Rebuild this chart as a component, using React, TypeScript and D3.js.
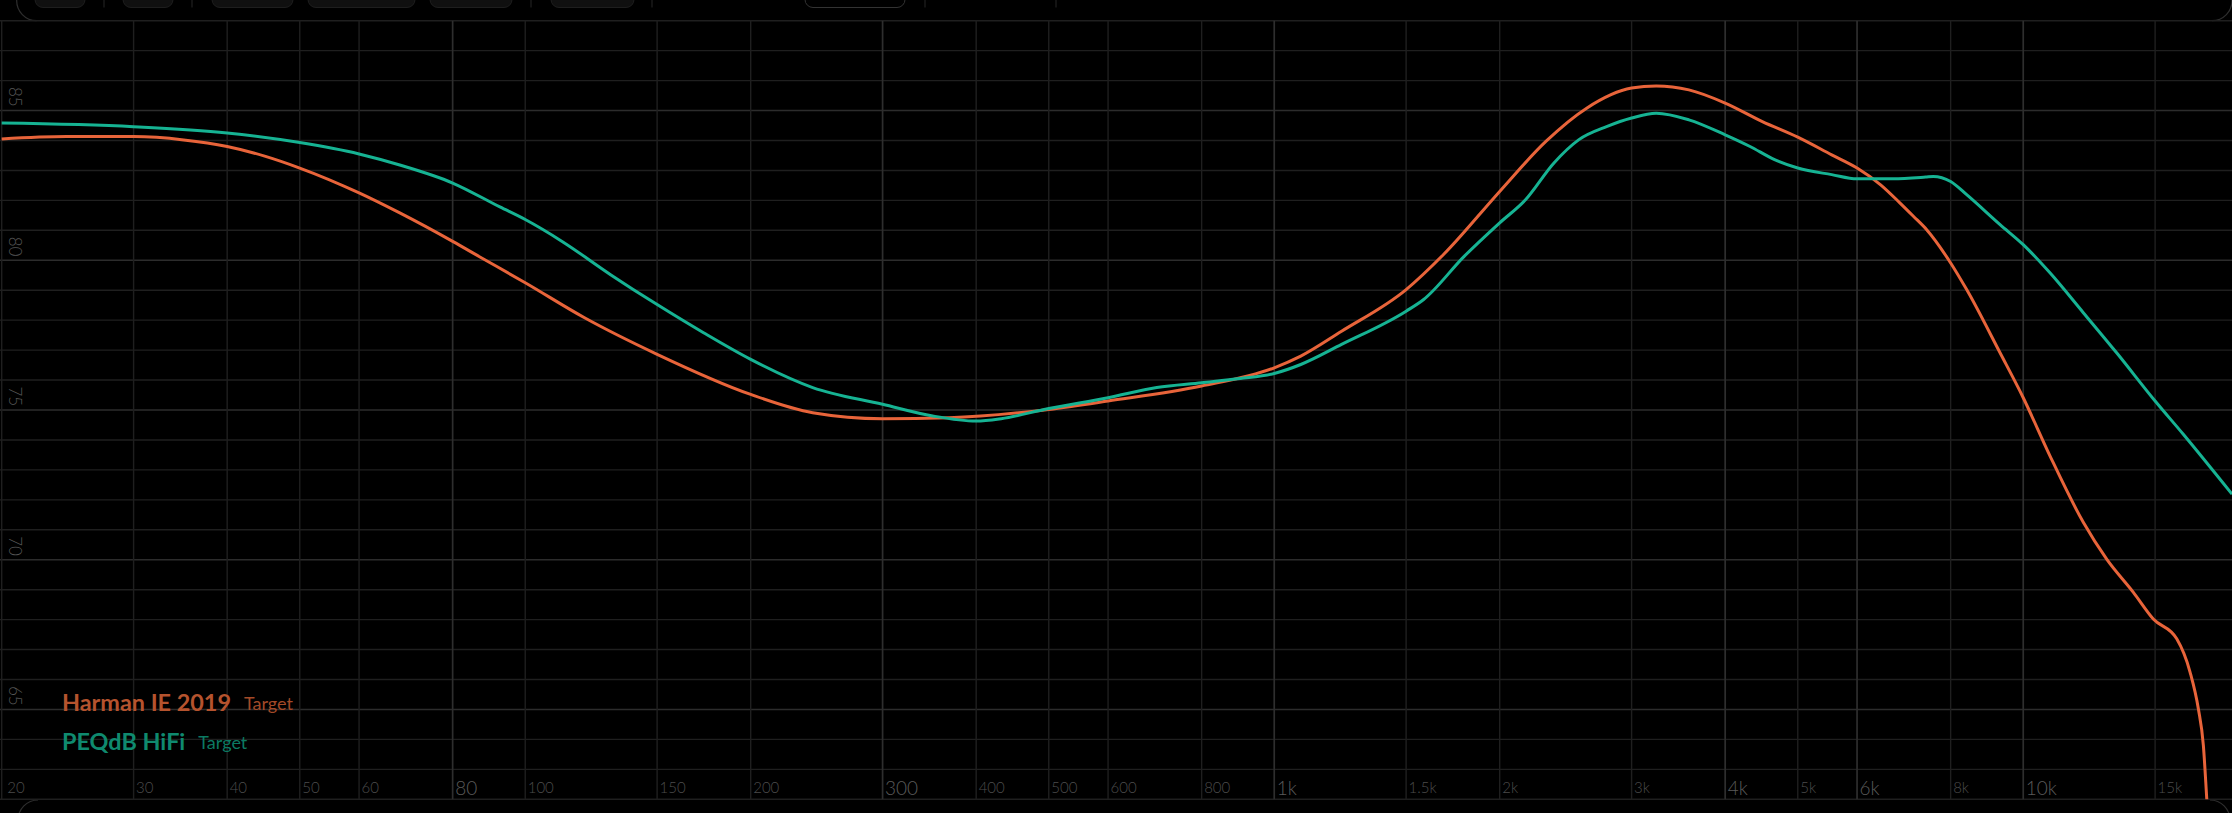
import * as d3 from "d3";
import { useEffect, useRef } from "react";

const W = 2232;
const H = 813;

// x axis grid / labels
const freqTicks = [20, 30, 40, 50, 60, 80, 100, 150, 200, 300, 400, 500, 600, 800, 1000, 1500, 2000, 3000, 4000, 5000, 6000, 8000, 10000, 15000, 20000];
const freqLabels = ["20", "30", "40", "50", "60", "80", "100", "150", "200", "300", "400", "500", "600", "800", "1k", "1.5k", "2k", "3k", "4k", "5k", "6k", "8k", "10k", "15k", "20k"];
const majorFreqs = [80, 300, 1000, 4000, 6000, 10000];

// y axis grid / labels (dB)
const dbLines = [62, 63, 64, 65, 66, 67, 68, 69, 70, 71, 72, 73, 74, 75, 76, 77, 78, 79, 80, 81, 82, 83, 84, 85, 86, 87, 88];
const dbLabels = [65, 70, 75, 80, 85];

// Harman IE 2019 target
const harmanFreq = [20, 24.4, 30, 35, 40, 45, 50, 60, 68, 80, 87, 100, 120, 150, 200, 242, 300, 368, 500, 600, 800, 1000, 1085, 1230, 1500, 1684, 2000, 2305, 2613, 3000, 3236, 3578, 4000, 4484, 5000, 5550, 6000, 6451, 6848, 7134, 7432, 8000, 8404, 9312, 10000, 10856, 12028, 12924, 14030, 14916, 16030, 16700, 17132, 17398, 17578, 17750];
const harmanDb = [84.05, 84.13, 84.13, 84.02, 83.8, 83.47, 83.08, 82.25, 81.58, 80.63, 80.11, 79.25, 78.08, 76.86, 75.52, 74.91, 74.71, 74.74, 75.02, 75.3, 75.8, 76.41, 76.8, 77.63, 79.02, 80.2, 82.3, 83.97, 85.08, 85.75, 85.82, 85.69, 85.25, 84.63, 84.11, 83.52, 83.08, 82.52, 81.91, 81.47, 81.02, 79.91, 79.02, 76.91, 75.41, 73.47, 71.25, 70.02, 68.91, 68.02, 67.36, 66.25, 65.02, 63.8, 62.05, 60.3];

// PEQdB HiFi target
const peqFreq = [20, 30, 40, 50, 60, 68, 80, 92.5, 100, 112, 130, 150, 173, 200, 242, 300, 350, 400, 432, 500, 600, 697, 800, 900, 1000, 1085, 1230, 1500, 1583, 1793, 2000, 2165, 2363, 2549, 2783, 3000, 3236, 3578, 4000, 4318, 4656, 5000, 5550, 6000, 6700, 7409, 7584, 8000, 8404, 9312, 10000, 10856, 12028, 13326, 15000, 16357, 19000];
const peqDb = [84.58, 84.46, 84.25, 83.93, 83.55, 83.18, 82.58, 81.78, 81.36, 80.63, 79.52, 78.52, 77.58, 76.69, 75.75, 75.19, 74.8, 74.63, 74.71, 75.05, 75.41, 75.75, 75.91, 76.05, 76.22, 76.52, 77.19, 78.3, 78.69, 80.13, 81.25, 82.02, 83.25, 84.02, 84.47, 84.75, 84.91, 84.69, 84.19, 83.8, 83.36, 83.08, 82.86, 82.72, 82.72, 82.78, 82.8, 82.63, 82.19, 81.19, 80.52, 79.58, 78.25, 76.91, 75.3, 74.19, 72.19];

const seriesNames = ["Harman IE 2019", "PEQdB HiFi"];
const seriesColors = ["#e8643a", "#16b393"];
const legendColors = ["#b5532e", "#0f8a6f"];
const legendSubColors = ["#a34a28", "#0c7a62"];

// toolbar buttons peeking in at the top (decoration)
const toolButtons = [[35, 85], [123, 173], [212, 293], [308, 415], [430, 512], [551, 634]];
const toolDividers = [104, 192, 531, 652, 925, 1056];

export default function App() {
  const ref = useRef<SVGSVGElement | null>(null);

  useEffect(() => {
    if (!ref.current) return;
    const svg = d3.select(ref.current);
    svg.selectAll("*").remove();

    const top = 20.7;
    const bottom = 799.3;

    const x = d3.scaleLog().domain([20, 20000]).range([1.7, 1.7 + 749 * 3]);
    const y = d3.scaleLinear().domain([62, 88]).range([bottom, top]);

    svg.append("rect").attr("width", W).attr("height", H).attr("fill", "#000");

    // toolbar
    const tb = svg.append("g");
    tb.selectAll("rect")
      .data(toolButtons)
      .join("rect")
      .attr("x", (d) => d[0])
      .attr("y", -20)
      .attr("width", (d) => d[1] - d[0])
      .attr("height", 27.5)
      .attr("rx", 8)
      .attr("fill", "#101010")
      .attr("stroke", "#1e1e1e");
    tb.append("rect")
      .attr("x", 805)
      .attr("y", -20)
      .attr("width", 100)
      .attr("height", 27.5)
      .attr("rx", 8)
      .attr("fill", "#000")
      .attr("stroke", "#333");
    tb.selectAll("line")
      .data(toolDividers)
      .join("line")
      .attr("x1", (d) => d)
      .attr("x2", (d) => d)
      .attr("y1", 0)
      .attr("y2", 7.5)
      .attr("stroke", "#262626");

    // panel corners
    const corners = svg.append("g").attr("fill", "none").attr("stroke", "#2e2e2e").attr("stroke-width", 1.2);
    corners.append("path").attr("d", `M16.7,0 A20,20 0 0 0 36.7,${top}`);
    corners.append("path").attr("d", `M2212,${top} A20,20 0 0 0 2232,0`);
    corners.append("path").attr("d", `M18,820 A20,20 0 0 1 38,800`);
    corners.append("path").attr("d", `M2210,800 A20,20 0 0 1 2230,820`);

    // horizontal grid
    svg.append("g")
      .selectAll("line")
      .data(dbLines)
      .join("line")
      .attr("x1", 0)
      .attr("x2", W)
      .attr("y1", (d) => y(d))
      .attr("y2", (d) => y(d))
      .attr("stroke", (d) => (d % 5 === 0 ? "#2c2c2c" : "#1f1f1f"))
      .attr("stroke-width", 1.4);

    // vertical grid
    svg.append("g")
      .selectAll("line")
      .data(freqTicks)
      .join("line")
      .attr("x1", (d) => x(d))
      .attr("x2", (d) => x(d))
      .attr("y1", top)
      .attr("y2", bottom)
      .attr("stroke", (d) => (majorFreqs.includes(d) ? "#2e2e2e" : "#1f1f1f"))
      .attr("stroke-width", (d) => (majorFreqs.includes(d) ? 1.7 : 1.4));

    // x labels
    svg.append("g")
      .selectAll("text")
      .data(freqTicks.slice(0, -1))
      .join("text")
      .attr("x", (d) => x(d) + (d === 20 ? 5.5 : 2.5))
      .attr("y", (d) => (majorFreqs.includes(d) ? 794.5 : 792.5))
      .attr("font-family", "Lato, 'Open Sans', sans-serif")
      .attr("font-weight", 300)
      .attr("font-size", (d) => (majorFreqs.includes(d) ? 19 : 15))
      .attr("fill", (d) => (majorFreqs.includes(d) ? "#5a5a5a" : "#4c4c4c"))
      .text((d, i) => freqLabels[i]);

    // y labels (rotated)
    svg.append("g")
      .selectAll("text")
      .data(dbLabels)
      .join("text")
      .attr("transform", (d) => `translate(15,${y(d) - 13.7}) rotate(90)`)
      .attr("text-anchor", "middle")
      .attr("dominant-baseline", "central")
      .attr("font-family", "Lato, 'Open Sans', sans-serif")
      .attr("font-weight", 300)
      .attr("font-size", 17)
      .attr("fill", "#555")
      .text((d) => String(d));

    // curves
    svg.append("clipPath")
      .attr("id", "plot-clip")
      .append("rect")
      .attr("x", 0)
      .attr("y", top)
      .attr("width", W)
      .attr("height", bottom - top);

    const line = d3
      .line<[number, number]>()
      .x((d) => x(d[0]))
      .y((d) => y(d[1]))
      .curve(d3.curveMonotoneX);

    const curves = [d3.zip(harmanFreq, harmanDb), d3.zip(peqFreq, peqDb)] as [number, number][][];
    const cg = svg.append("g").attr("clip-path", "url(#plot-clip)");
    curves.forEach((pts, i) => {
      cg.append("path")
        .attr("d", line(pts))
        .attr("fill", "none")
        .attr("stroke", seriesColors[i])
        .attr("stroke-width", 3)
        .attr("stroke-linejoin", "round");
    });

    // legend
    const lg = svg.append("g").attr("font-family", "Lato, 'Open Sans', sans-serif");
    seriesNames.forEach((name, i) => {
      const t = lg.append("text")
        .attr("x", 62)
        .attr("y", 711 + i * 38.5)
        .attr("font-size", 23.4)
        .attr("font-weight", 700)
        .attr("fill", legendColors[i])
        .text(name);
      const w = (t.node() as SVGTextElement).getComputedTextLength();
      lg.append("text")
        .attr("x", 62 + w + 13)
        .attr("y", 711 + i * 38.5 - 1)
        .attr("font-size", 18)
        .attr("fill", legendSubColors[i])
        .text("Target");
    });
  }, []);

  return (
    <>
      <style>{`body{margin:0;background:#000;overflow:hidden;}`}</style>
      <svg ref={ref} width={W} height={H} style={{ display: "block" }} />
    </>
  );
}
